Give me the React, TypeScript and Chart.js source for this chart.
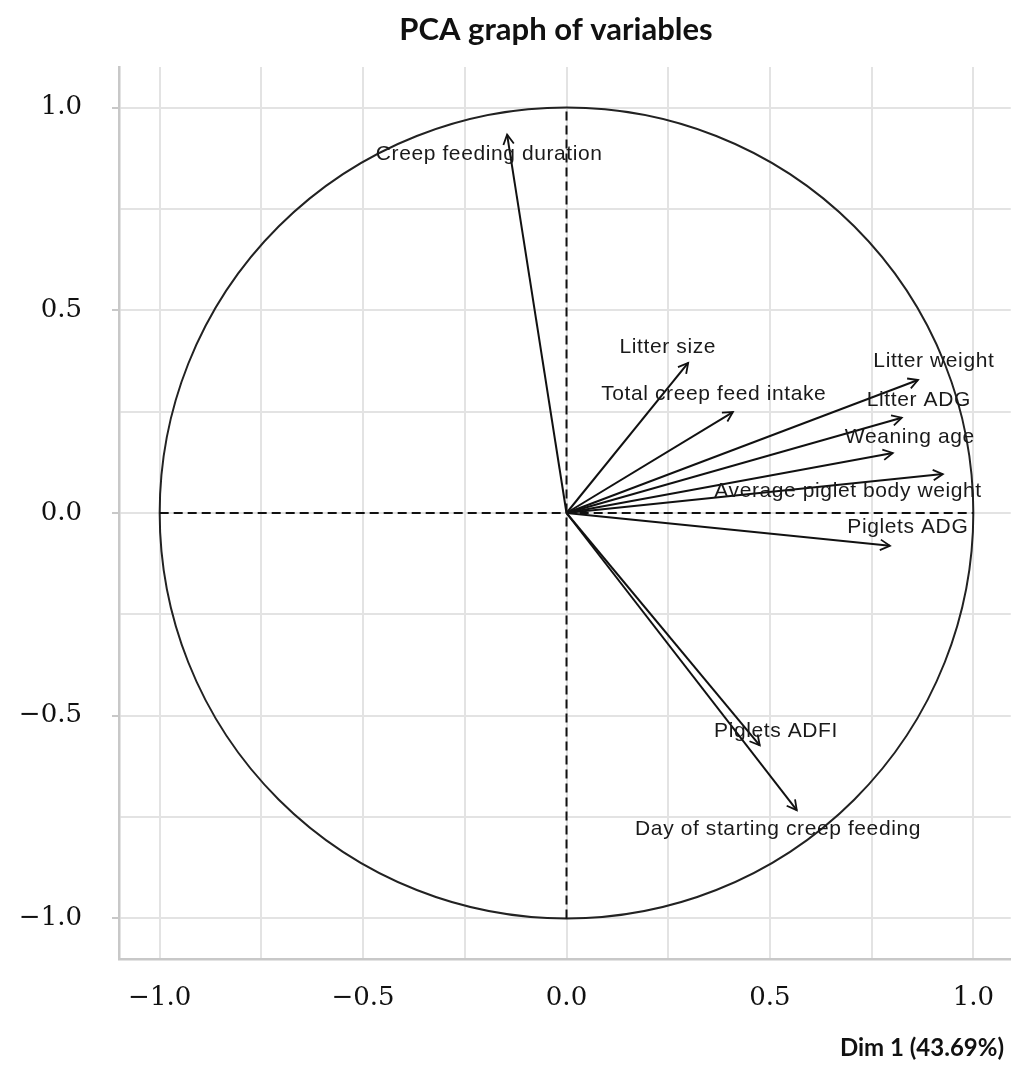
import React, { useEffect, useRef } from "react";
import { Chart, registerables } from "chart.js";

Chart.register(...registerables);

const chartTitle = "PCA graph of variables";
const xAxisTitle = "Dim 1 (43.69%)";

const variables = [
  "Creep feeding duration",
  "Litter size",
  "Total creep feed intake",
  "Litter weight",
  "Litter ADG",
  "Weaning age",
  "Average piglet body weight",
  "Piglets ADG",
  "Piglets ADFI",
  "Day of starting creep feeding",
];
const dim1 = [-0.146, 0.299, 0.409, 0.864, 0.824, 0.802, 0.925, 0.795, 0.475, 0.566];
const dim2 = [0.933, 0.37, 0.249, 0.328, 0.235, 0.148, 0.096, -0.081, -0.573, -0.733];
const labelDim1 = [-0.19, 0.249, 0.362, 0.903, 0.866, 0.844, 0.692, 0.839, 0.515, 0.52];
const labelDim2 = [0.886, 0.41, 0.294, 0.375, 0.279, 0.188, 0.054, -0.035, -0.538, -0.78];

const W = 1011;
const H = 1071;

const isHalf = (v: number) => Math.abs(v * 2 - Math.round(v * 2)) < 1e-6;
const fmt = (v: number) => (v < -1e-9 ? "\u2212" + Math.abs(v).toFixed(1) : Math.abs(v).toFixed(1));

export default function App() {
  const ref = useRef<HTMLCanvasElement | null>(null);

  useEffect(() => {
    if (!ref.current) return;

    const arrowSets = variables.map((name, i) => ({
      label: name,
      data: [
        { x: 0, y: 0 },
        { x: dim1[i], y: dim2[i] },
      ],
      showLine: true,
      borderColor: "#111",
      borderWidth: 2,
      pointRadius: 0,
      fill: false,
    }));

    const dashed = [
      {
        label: "h",
        data: [
          { x: -1, y: 0 },
          { x: 1, y: 0 },
        ],
        showLine: true,
        borderColor: "#111",
        borderWidth: 2,
        borderDash: [9, 5],
        pointRadius: 0,
      },
      {
        label: "v",
        data: [
          { x: 0, y: -1 },
          { x: 0, y: 1 },
        ],
        showLine: true,
        borderColor: "#111",
        borderWidth: 2,
        borderDash: [9, 5],
        pointRadius: 0,
      },
    ];

    const pcaPlugin = {
      id: "pca",
      beforeDatasetsDraw(chart: any) {
        const { ctx, chartArea, scales } = chart;
        const xs = scales.x;
        const ys = scales.y;
        const cx = xs.getPixelForValue(0);
        const cy = ys.getPixelForValue(0);
        const rx = xs.getPixelForValue(1) - cx;
        const ry = cy - ys.getPixelForValue(1);
        ctx.save();
        ctx.beginPath();
        ctx.rect(chartArea.left, chartArea.top, chartArea.right - chartArea.left, chartArea.bottom - chartArea.top);
        ctx.clip();
        ctx.beginPath();
        ctx.ellipse(cx, cy, rx, ry, 0, 0, Math.PI * 2);
        ctx.strokeStyle = "#222";
        ctx.lineWidth = 2;
        ctx.stroke();
        ctx.restore();
      },
      afterDatasetsDraw(chart: any) {
        const { ctx, scales } = chart;
        const xs = scales.x;
        const ys = scales.y;
        const ox = xs.getPixelForValue(0);
        const oy = ys.getPixelForValue(0);
        ctx.save();
        ctx.strokeStyle = "#111";
        ctx.lineWidth = 1.8;
        for (let i = 0; i < variables.length; i++) {
          const tx = xs.getPixelForValue(dim1[i]);
          const ty = ys.getPixelForValue(dim2[i]);
          const a = Math.atan2(ty - oy, tx - ox);
          const len = 11;
          const spread = 0.5;
          ctx.beginPath();
          ctx.moveTo(tx - len * Math.cos(a - spread), ty - len * Math.sin(a - spread));
          ctx.lineTo(tx, ty);
          ctx.lineTo(tx - len * Math.cos(a + spread), ty - len * Math.sin(a + spread));
          ctx.stroke();
        }
        ctx.fillStyle = "#1a1a1a";
        ctx.font = "21px 'Liberation Sans', Arial, sans-serif";
        try {
          (ctx as any).letterSpacing = "0.6px";
        } catch (e) {}
        ctx.textAlign = "center";
        ctx.textBaseline = "middle";
        for (let i = 0; i < variables.length; i++) {
          ctx.fillText(variables[i], xs.getPixelForValue(labelDim1[i]), ys.getPixelForValue(labelDim2[i]));
        }
        try {
          (ctx as any).letterSpacing = "0px";
        } catch (e) {}
        ctx.fillStyle = "#111";
        ctx.font = "bold 31px Lato, 'Open Sans', sans-serif";
        ctx.textAlign = "center";
        ctx.fillText(chartTitle, 556, 30);
        ctx.font = "bold 24px Lato, 'Open Sans', sans-serif";
        ctx.textAlign = "right";
        ctx.fillText(xAxisTitle, 1004, 1048);
        ctx.restore();
      },
    };

    const chart = new Chart(ref.current, {
      type: "scatter",
      data: { datasets: [...dashed, ...arrowSets] as any },
      options: {
        animation: false,
        responsive: false,
        maintainAspectRatio: false,
        layout: { padding: { top: 67, right: 0, bottom: 0, left: 0 } },
        plugins: {
          legend: { display: false },
          tooltip: { enabled: false },
          title: { display: false },
        },
        scales: {
          x: {
            type: "linear",
            min: -1.1,
            max: 1.092,
            afterFit: (s: any) => {
              s.height = H - 959;
            },
            ticks: {
              stepSize: 0.25,
              includeBounds: false,
              autoSkip: false,
              maxRotation: 0,
              padding: 17,
              color: "#111",
              font: { family: "'DejaVu Serif', serif", size: 26 },
              callback: (v: any) => (isHalf(Number(v)) ? fmt(Number(v)) : ""),
            },
            grid: {
              color: "#e3e3e3",
              lineWidth: 2,
              tickLength: 7,
              tickColor: "transparent",
            },
            border: { color: "#c8c8c8", width: 2.5 },
          },
          y: {
            type: "linear",
            min: -1.1,
            max: 1.1,
            afterFit: (s: any) => {
              s.width = 119;
            },
            ticks: {
              stepSize: 0.25,
              includeBounds: false,
              autoSkip: false,
              padding: 30,
              color: "#111",
              font: { family: "'DejaVu Serif', serif", size: 26 },
              callback: (v: any) => (isHalf(Number(v)) ? fmt(Number(v)) : ""),
            },
            grid: {
              color: "#e3e3e3",
              lineWidth: 2,
              tickLength: 7,
              tickColor: (c: any) => (c.tick && isHalf(c.tick.value) ? "#c8c8c8" : "transparent"),
            },
            border: { color: "#c8c8c8", width: 2.5 },
          },
        },
      },
      plugins: [pcaPlugin],
    });

    return () => chart.destroy();
  }, []);

  return (
    <div style={{ position: "absolute", left: 0, top: 0, width: W, height: H, background: "#fff" }}>
      <canvas ref={ref} width={W} height={H} style={{ display: "block", width: W, height: H }} />
    </div>
  );
}
